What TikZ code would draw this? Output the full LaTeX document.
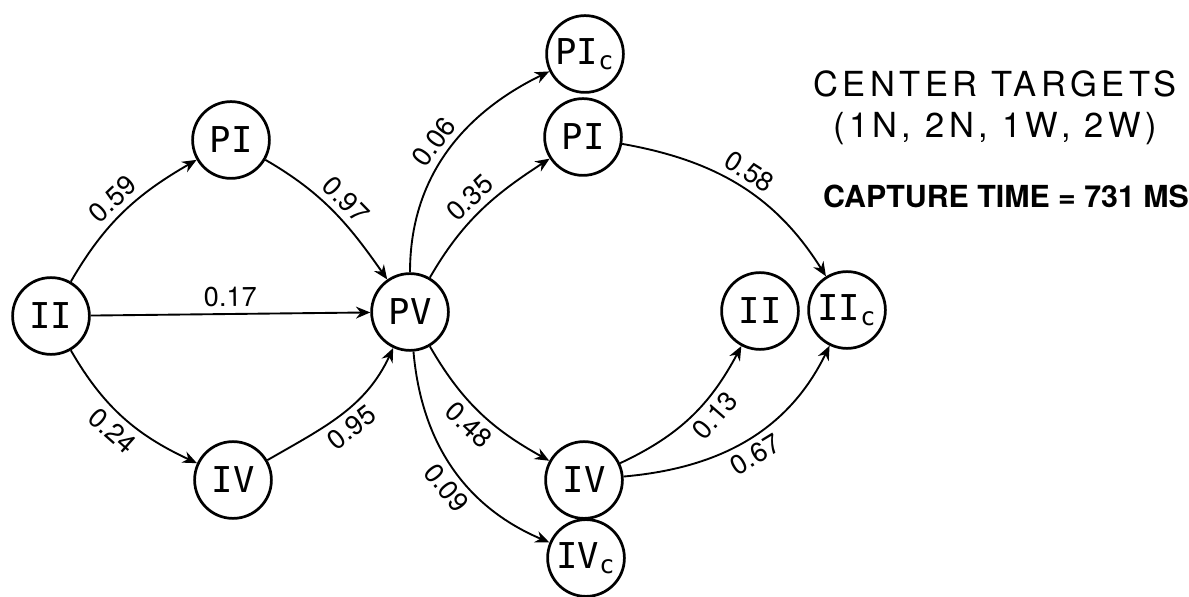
\documentclass[tikz,border=0pt]{standalone}
\usepackage{fontspec}
\setmainfont{TeX Gyre Heros}
\newfontfamily\statefont{DejaVu Sans Mono}
\usetikzlibrary{arrows.meta,positioning}
\tikzset{
  state/.style = {circle, draw, line width=1.3pt, minimum size=1.29cm,
                  inner sep=0pt, font=\statefont\fontsize{17}{19}\selectfont},
  flow/.style  = {-{Stealth[length=2.4mm,width=2mm]}, line width=0.9pt},
  wt/.style    = {sloped, inner sep=3pt, font=\fontsize{13}{15}\selectfont},
  head/.style  = {inner sep=0pt, font=\fontsize{16.5}{18}\selectfont\addfontfeature{LetterSpace=13}},
}

\begin{document}
\begin{tikzpicture}[x=0.0168cm, y=0.0168cm]
\useasboundingbox (0,0) rectangle (1189,596);

% first step
\node[state] (iiL) at (51,280)  {II};
\node[state] (piL) at (231,456) {PI};
\node[state] (ivL) at (233,116) {IV};
\node[state] (pv)  at (410,284) {PV};

% second step
\node[state] (pic) at (585,542) {PI\textsubscript{c}};
\node[state] (piR) at (583,459) {PI};
\node[state] (ivR) at (584,116) {IV};
\node[state] (ivc) at (586,38)  {IV\textsubscript{c}};
\node[state] (iiR) at (760,285) {II};
\node[state] (iic) at (847,286) {II\textsubscript{c}};

% legend
\node[head] (title)   at (995,512) {CENTER TARGETS};
\node[head] (targets) at (995,467) {(1N, 2N, 1W, 2W)};
\node[inner sep=0pt, font=\fontsize{14.5}{16}\selectfont\bfseries] (capture) at (1006,400)
  {CAPTURE TIME = 731 MS};

\draw[flow] (iiL) to[out=60,in=210] node[wt, above] {0.59} (piL);
\draw[flow] (piL) to[out=-30,in=125] node[wt, above] {0.97} (pv);
\draw[flow] (iiL) -- node[wt, above] {0.17} (pv);
\draw[flow] (iiL) to[out=-60,in=155] node[wt, below] {0.24} (ivL);
\draw[flow] (ivL) to[out=30,in=245] node[wt, below] {0.95} (pv);

\draw[flow] (pv) to[out=90,in=206] node[wt, above] {0.06} (pic);
\draw[flow] (pv) to[out=60,in=213] node[wt, above] {0.35} (piR);
\draw[flow] (pv) to[out=-60,in=151] node[wt, below] {0.48} (ivR);
\draw[flow] (pv) to[out=-85,in=157] node[wt, below, pos=0.55] {0.09} (ivc);

\draw[flow] (piR) to[out=-10,in=122] node[wt, above] {0.58} (iic);
\draw[flow] (ivR) to[out=25,in=242] node[wt, below, pos=0.6] {0.13} (iiR);
\draw[flow] (ivR) to[out=5,in=244] node[wt, below] {0.67} (iic);
\end{tikzpicture}
\end{document}
